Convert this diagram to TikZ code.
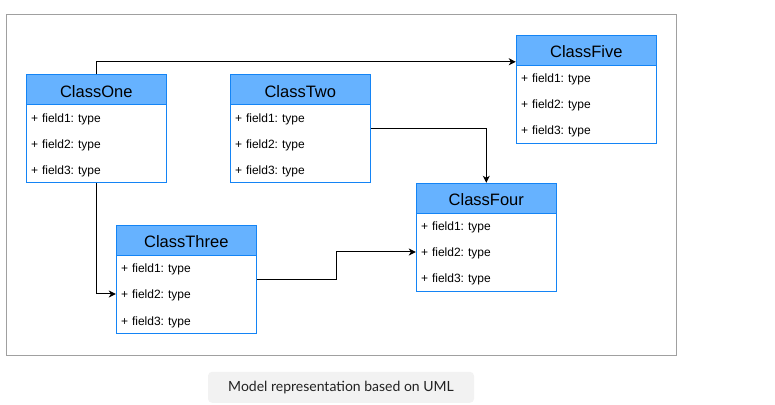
\documentclass[tikz,border=0pt]{standalone}
\usepackage{fontspec}
\setmainfont{Liberation Sans}
\newfontfamily\notefont{Lato}
\usetikzlibrary{positioning,calc,arrows.meta}

\definecolor{umlblue}{HTML}{66B2FF}
\definecolor{umledge}{HTML}{1484F5}
\definecolor{framegray}{HTML}{A0A0A0}
\definecolor{notegray}{HTML}{F2F2F2}
\definecolor{notetext}{HTML}{222222}

\tikzset{
  classbox/.style={draw=umledge, fill=white, line width=1pt,
    minimum width=140pt, minimum height=108pt, inner sep=0pt},
  classhead/.style={draw=umledge, fill=umlblue, line width=1pt,
    minimum width=140pt, minimum height=30pt, inner sep=0pt,
    text height=14.6pt, text depth=0pt,
    font=\fontsize{16.5}{18}\selectfont},
  classfield/.style={text width=130pt, inner xsep=5pt, inner ysep=0pt,
    minimum height=26pt, align=left, text height=12pt, text depth=2pt,
    font=\fontsize{12}{14}\selectfont\frenchspacing},
  link/.style={line width=1pt, -{Stealth[length=7pt,width=7pt,inset=2pt]}},
  note/.style={fill=notegray, rounded corners=4pt, minimum width=266pt,
    minimum height=31pt, text=notetext, font=\notefont\fontsize{14}{16}\selectfont},
}

\newcommand{\umlclass}[3]{%
  \node[classbox] (#1) at (#2) {};
  \node[classhead, below=0pt of #1.north] (#1-head) {#3};
  \foreach \i in {1,2,3}
    \node[classfield, anchor=north west] (#1-f\i)
      at ($(#1.north west)+(0,{-30-26*(\i-1)})$) {+ field\i: type};
}

\begin{document}
\begin{tikzpicture}[x=1pt, y=1pt]
  \useasboundingbox (0,0) rectangle (775,404);
  \draw[framegray, line width=1pt] (6,389) rectangle (676,49);

  \umlclass{one}{96.3,275}{ClassOne}
  \umlclass{two}{300.3,275}{ClassTwo}
  \umlclass{three}{186.3,124.7}{ClassThree}
  \umlclass{four}{486.3,166.7}{ClassFour}
  \umlclass{five}{586.3,314.7}{ClassFive}

  \draw[link] (one.north) |- ($(five.north west)+(0,-27)$);
  \draw[link] (two.east) -| (four.north);
  \draw[link] (one.south) |- (three-f2.west);
  \draw[link] (three.east) -| ($(three.east)!0.5!(four-f2.west)$) |- (four-f2.west);

  \node[note] (caption) at (341,16.7) {Model representation based on UML};
\end{tikzpicture}
\end{document}
